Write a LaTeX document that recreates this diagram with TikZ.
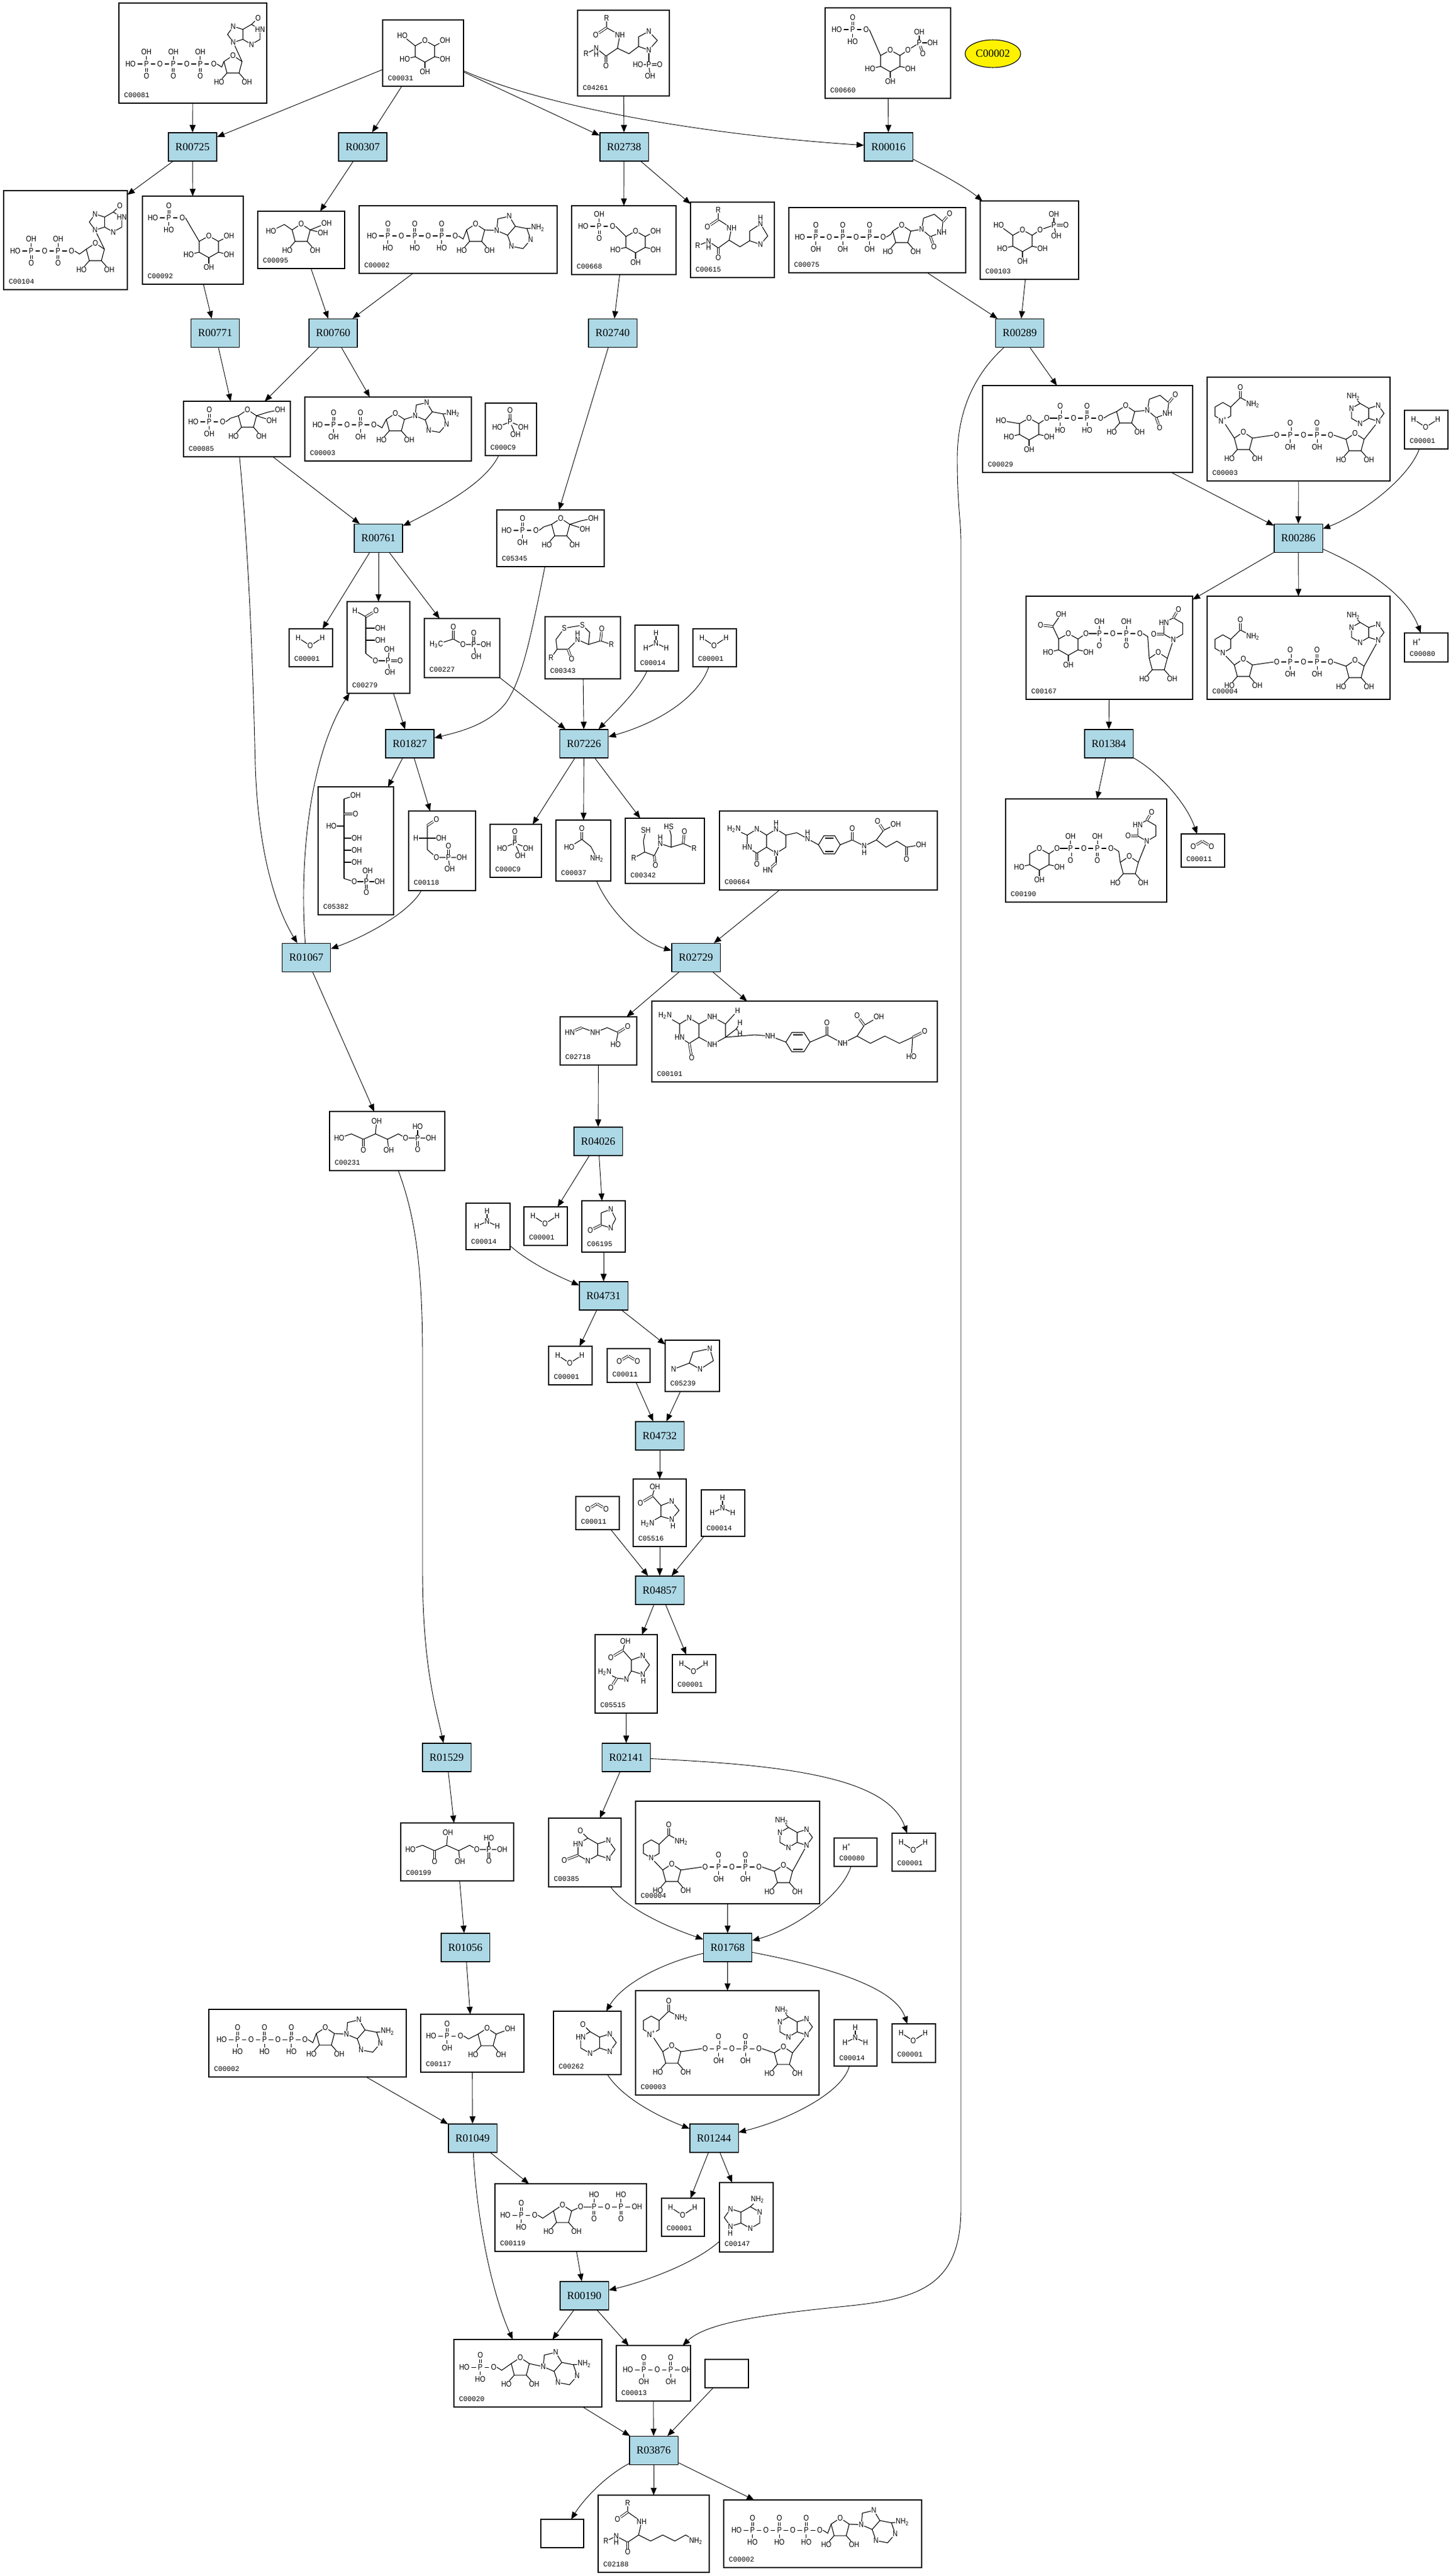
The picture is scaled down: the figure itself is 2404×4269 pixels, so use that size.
\documentclass[tikz,border=0pt]{standalone}
\usepackage{fontspec}
\setmainfont{Liberation Serif}
\newfontfamily\atomff{Liberation Sans}[FakeStretch=0.85]
\newfontfamily\idff{Liberation Mono}
\usetikzlibrary{arrows.meta,fit,calc,shapes.geometric}
\definecolor{rxfill}{HTML}{ADD8E6}
\tikzset{
 atom/.style={font={\atomff\fontsize{4.9}{4.9}\selectfont}, inner sep=0.3pt, outer sep=0pt},
 bond/.style={line width=0.4pt},
 dbl/.style={line width=0.33pt, double, double distance=0.8pt},
 cbx/.style={draw, line width=0.42pt, inner sep=0pt, outer sep=0pt},
 idl/.style={font={\idff\fontsize{4.3}{4.3}\selectfont}, inner sep=0pt},
 rx/.style={draw, fill=rxfill, line width=0.42pt, minimum width=29.5pt, minimum height=17.3pt, inner sep=0pt, font={\fontsize{6.6}{6.6}\selectfont}},
 e/.style={-{Triangle[length=4.5pt,width=3.6pt]}, line width=0.33pt},
}
% ---------- building blocks ----------
\newcommand\cbox[6]{%
 \node[cbx, fit={(#2,#3) (#4,#5)}] (#1) {};
 \node[idl, anchor=south west] at ([xshift=3pt,yshift=3.4pt]#1.south west) {#6};}
\newcommand\mChain[7]{%
 \foreach \lab [count=\i] in {#3}{%
  \ifnum\i=1\relax
   \node[atom,anchor=west] (#1\i) at (#2) {\lab};
  \else
   \pgfmathtruncatemacro\jj{\i-1}%
   \node[atom,anchor=west] (#1\i) at ([xshift=4.6pt]#1\jj.east) {\lab};
   \draw[bond] ([xshift=0.9pt]#1\jj.east) -- ([xshift=-0.9pt]#1\i.west);
  \fi
  \edef\tmpA{\lab}\def\tmpP{P}%
  \ifx\tmpA\tmpP
   \node[atom,anchor=south] (#1\i u) at ([yshift=3.4pt]#1\i.north) {#4};
   \draw[#5] ([yshift=0.5pt]#1\i.north) -- ([yshift=-0.5pt]#1\i u.south);
   \node[atom,anchor=north] (#1\i d) at ([yshift=-3.4pt]#1\i.south) {#6};
   \draw[#7] ([yshift=-0.5pt]#1\i.south) -- ([yshift=0.5pt]#1\i d.north);
  \fi
  \xdef\mLast{#1\i}%
 }}
\newcommand\mRib[2]{%
 \begin{scope}[shift={(#2)}]
  \node[atom] (#1O) at (0,-17) {O};
  \coordinate (#1L) at (-15,-7); \coordinate (#1R) at (15,-7);
  \coordinate (#1BL) at (-10,12); \coordinate (#1BR) at (10,12);
  \draw[bond] (#1O) -- (#1R) -- (#1BR) -- (#1BL) -- (#1L) -- (#1O);
  \node[atom] (#1h) at (-23,27) {HO}; \node[atom] (#1k) at (23,27) {OH};
  \draw[bond] (#1BL) -- (#1h); \draw[bond] (#1BR) -- (#1k);
 \end{scope}}
\newcommand\mPyran[3]{%
 \begin{scope}[shift={(#2)}]
  \node[atom] (#1O) at (0,-18) {O};
  \coordinate (#1UR) at (16,-9); \coordinate (#1LR) at (16,9); \coordinate (#1B) at (0,18);
  \coordinate (#1LL) at (-16,9); \coordinate (#1UL) at (-16,-9);
  \draw[bond] (#1O) -- (#1UR) -- (#1LR) -- (#1B) -- (#1LL) -- (#1UL) -- (#1O);
  \node[atom,anchor=west] (#1a) at (24,-18) {#3}; \draw[bond] (#1UR) -- (#1a);
  \node[atom,anchor=west] (#1b) at (24,13) {OH}; \draw[bond] (#1LR) -- (#1b);
  \node[atom] (#1c) at (0,34) {OH}; \draw[bond] (#1B) -- (#1c);
  \node[atom,anchor=east] (#1d) at (-24,13) {HO}; \draw[bond] (#1LL) -- (#1d);
 \end{scope}}
\newcommand\mPur[5]{%
 \begin{scope}[shift={(#2)},#3]
  \coordinate (#1C8) at (0,0);
  \node[atom] (#1N7) at (8.7,-12.1) {N};
  \node[atom] (#1N9) at (8.7,12.1) {N};
  \coordinate (#1C5) at (23,-7.5); \coordinate (#1C4) at (23,7.5);
  \coordinate (#1C6) at (36,-15);
  \node[atom] (#1N1) at (49,-7.5) {#5};
  \coordinate (#1C2) at (49,7.5);
  \node[atom] (#1N3) at (36,15) {N};
  \draw[bond] (#1N7) -- (#1C8) -- (#1N9) -- (#1C4) -- (#1C5) -- (#1N7);
  \draw[bond] (#1C5) -- (#1C6) -- (#1N1) -- (#1C2) -- (#1N3) -- (#1C4);
  \node[atom] (#1S) at (46,-25) {#4};
  \draw[bond] (#1C6) -- (#1S);
 \end{scope}}
\newcommand\mUra[4]{%
 \begin{scope}[shift={(#2)},#3]
  \node[atom] (#1N) at (0,0) {N};
  \coordinate (#1a) at (7.5,-13); \coordinate (#1b) at (22.5,-13); \coordinate (#1c) at (30,0);
  \node[atom] (#1d) at (23.5,13) {#4};
  \coordinate (#1e) at (7.5,13);
  \draw[bond] (#1N) -- (#1a) -- (#1b) -- (#1c) -- (#1d) -- (#1e) -- (#1N);
  \node[atom] (#1o1) at (42,-7) {O}; \draw[dbl] (#1c) -- (#1o1);
  \node[atom] (#1o2) at (7.5,27) {O}; \draw[dbl] (#1e) -- (#1o2);
 \end{scope}}
\newcommand\mAde[7]{%
 \mChain{#1c}{#2}{#3}{O}{dbl}{#4}{bond}
 \mRib{#1r}{#5}
 \draw[bond] (\mLast.east) -- ++(8,5) -- (#1rL);
 \mPur{#1p}{#6}{#7}{NH\textsubscript{2}}{N}
 \draw[bond] (#1rR) -- (#1pN9);}
\newcommand\mNAD[4]{%
 \begin{scope}[shift={(26,57+#3)}]
  \coordinate (#1t) at (0,-15); \coordinate (#1ur) at (13,-7.5); \coordinate (#1lr) at (13,7.5);
  \node[atom] (#1N) at (0,15) {#2};
  \coordinate (#1ll) at (-13,7.5); \coordinate (#1ul) at (-13,-7.5);
  \draw[bond] (#1t) -- (#1ur) -- (#1lr) -- (#1N) -- (#1ll) -- (#1ul) -- (#1t);
  \coordinate (#1cc) at (29,-23);
  \node[atom] (#1co) at (29,-40) {O};
  \node[atom,anchor=west] (#1cn) at (38,-12) {NH\textsubscript{2}};
  \draw[bond] (#1ur) -- (#1cc) -- (#1cn); \draw[dbl] (#1cc) -- (#1co);
 \end{scope}
 \mRib{#1r}{60,108+#4}
 \draw[bond] (#1N) -- (#1rL);
 \mChain{#1c}{110,96+#4}{O,P,O,P,O}{O}{dbl}{OH}{bond}
 \draw[bond] (#1rR) -- (#1c1.west);
 \mRib{#1s}{245,110+#4}
 \draw[bond] (\mLast.east) -- (#1sL);
 \mPur{#1p}{293,60}{xscale=-1.1,yscale=1.1}{NH\textsubscript{2}}{N}
 \draw[bond] (#1pN9) -- (#1sR);}
\newcommand\mFP[1]{%
 \mChain{#1c}{7,34}{HO,P,O}{O}{dbl}{OH}{bond}
 \mRib{#1r}{106,31}
 \draw[bond] (#1c3.east) -- ++(8,-6) -- (#1rL);
 \coordinate (#1k) at (140,18);
 \node[atom] (#1o1) at (160,14) {OH}; \node[atom] (#1o2) at (146,32) {OH};
 \draw[bond] (#1rR) -- (#1k) -- (#1o1); \draw[bond] (#1rR) -- (#1o2);}
\newcommand\mWater{%
 \node[atom] (wa) at (15,15) {H}; \node[atom] (wb) at (35,28) {O}; \node[atom] (wc) at (55,15) {H};
 \draw[bond] (wa) -- (wb) -- (wc);}
\newcommand\mAmm{%
 \node[atom] (na) at (35,13) {H}; \node[atom] (nb) at (35,30) {N};
 \node[atom] (nc) at (18,38) {H}; \node[atom] (nd) at (52,38) {H};
 \draw[bond] (na) -- (nb); \draw[bond] (nc) -- (nb) -- (nd);}
\newcommand\mCOO{%
 \node[atom] (oa) at (20,21) {O}; \node[atom] (ob) at (50,21) {O}; \coordinate (oc) at (35,12);
 \draw[dbl] (oa) -- (oc); \draw[dbl] (oc) -- (ob);}
\newcommand\mHp{\node[atom] at (21,15) {H\textsuperscript{+}};}
\newcommand\mPi{%
 \node[atom] (pa) at (41,31) {P}; \node[atom] (pb) at (41,12) {O};
 \node[atom] (pc) at (20,40) {HO}; \node[atom] (pd) at (63,40) {OH}; \node[atom] (pe) at (50,52) {OH};
 \draw[dbl] (pa) -- (pb); \draw[bond] (pc) -- (pa) -- (pd); \draw[bond] (pa) -- (pe);}
\newcommand\inbox[2]{\begin{scope}[shift={(#1)}]#2\end{scope}}

\begin{document}
\begin{tikzpicture}[x=0.3682pt,y=-0.3682pt]
\useasboundingbox (0,0) rectangle (2404,4269);

% ================= reactions =================
\foreach \nm/\cx/\cy in {R00725/319/243.5, R00307/601/243.5, R02738/1034/243.5, R00016/1472/243.5,
  R00771/356.5/552, R00760/552/552, R02740/1015/552, R00289/1689.5/552,
  R00761/627/892, R00286/2151/892, R01827/679/1232.5, R07226/967.5/1232.5, R01384/1837/1232.5,
  R01067/507.5/1587, R02729/1153/1587, R04026/991/1891.5, R04731/1000/2147.5,
  R04732/1093/2379.5, R04857/1093/2635.5, R01529/740/2912.5, R02141/1037.5/2912.5,
  R01056/771/3227.5, R01768/1205.5/3227.5, R01049/783/3543.5, R01244/1183/3543.5,
  R00190/968/3804.5, R03876/1083/4061}
  {\node[rx] (\nm) at (\cx,\cy) {\nm};}

\node[draw, ellipse, fill=yellow, line width=0.42pt, minimum width=33.9pt, minimum height=16.9pt, inner sep=0pt,
  font={\fontsize{6.6}{6.6}\selectfont}] (C00002y) at (1645,89) {C00002};

% ================= compound boxes =================
\cbox{C00081}{197}{5}{442}{171}{C00081}
\cbox{C00031}{634}{33}{768}{143}{C00031}
\cbox{C04261}{957}{17}{1109}{159}{C04261}
\cbox{C00660}{1367}{13}{1575}{163}{C00660}
\cbox{C00104}{6}{316}{211}{480}{C00104}
\cbox{C00092}{236}{325}{403}{471}{C00092}
\cbox{C00095}{427}{350}{571}{445}{C00095}
\cbox{C00002a}{595}{341}{923}{453}{C00002}
\cbox{C00668}{947}{341}{1120}{455}{C00668}
\cbox{C00615}{1144}{335}{1283}{460}{C00615}
\cbox{C00075}{1307}{344}{1600}{452}{C00075}
\cbox{C00103}{1624}{333}{1787}{463}{C00103}
\cbox{C00085}{304}{665}{481}{757}{C00085}
\cbox{C00008}{505}{658}{781}{764}{C00003}
\cbox{C00009a}{804}{668}{889}{755}{C000C9}
\cbox{C00029}{1628}{639}{1976}{783}{C00029}
\cbox{C00003a}{2000}{625}{2303}{797}{C00003}
\cbox{C00001a}{2327}{680}{2399}{744}{C00001}
\cbox{C05345}{823}{845}{1001}{939}{C05345}
\cbox{C00001b}{479}{1042}{551}{1105}{C00001}
\cbox{C00279}{575}{997}{679}{1149}{C00279}
\cbox{C00227}{703}{1025}{828}{1123}{C00227}
\cbox{C00343}{903}{1022}{1028}{1125}{C00343}
\cbox{C00014a}{1052}{1036}{1124}{1112}{C00014}
\cbox{C00001c}{1148}{1042}{1220}{1105}{C00001}
\cbox{C00167}{1700}{988}{1976}{1159}{C00167}
\cbox{C00004a}{2000}{988}{2303}{1159}{C00004}
\cbox{C00080a}{2327}{1049}{2399}{1097}{C00080}
\cbox{C05382}{527}{1304}{652}{1516}{C05382}
\cbox{C00118}{677}{1344}{788}{1476}{C00118}
\cbox{C00009b}{812}{1366}{897}{1454}{C000C9}
\cbox{C00037}{921}{1359}{1012}{1460}{C00037}
\cbox{C00342}{1036}{1356}{1167}{1464}{C00342}
\cbox{C00664}{1192}{1344}{1553}{1475}{C00664}
\cbox{C00190}{1666}{1324}{1933}{1495}{C00190}
\cbox{C00011a}{1957}{1382}{2029}{1437}{C00011}
\cbox{C02718}{928}{1685}{1055}{1765}{C02718}
\cbox{C00101}{1080}{1659}{1553}{1793}{C00101}
\cbox{C00231}{546}{1842}{737}{1940}{C00231}
\cbox{C00014b}{772}{1994}{845}{2071}{C00014}
\cbox{C00001d}{868}{2000}{940}{2064}{C00001}
\cbox{C06195}{964}{1990}{1036}{2075}{C06195}
\cbox{C00001e}{909}{2231}{981}{2295}{C00001}
\cbox{C00011b}{1006}{2235}{1077}{2291}{C00011}
\cbox{C05239}{1102}{2221}{1192}{2306}{C05239}
\cbox{C00011c}{954}{2480}{1026}{2535}{C00011}
\cbox{C05516}{1049}{2451}{1137}{2563}{C05516}
\cbox{C00014c}{1162}{2469}{1234}{2546}{C00014}
\cbox{C05515}{986}{2709}{1089}{2839}{C05515}
\cbox{C00001f}{1114}{2742}{1186}{2805}{C00001}
\cbox{C00199}{664}{3021}{851}{3117}{C00199}
\cbox{C00385}{909}{3013}{1029}{3127}{C00385}
\cbox{C00004b}{1053}{2985}{1358}{3155}{C00004}
\cbox{C00080b}{1382}{3046}{1453}{3093}{C00080}
\cbox{C00001g}{1478}{3038}{1550}{3101}{C00001}
\cbox{C00002b}{346}{3330}{673}{3442}{C00002}
\cbox{C00117}{697}{3338}{868}{3434}{C00117}
\cbox{C00262}{917}{3333}{1029}{3438}{C00262}
\cbox{C00003b}{1053}{3299}{1357}{3472}{C00003}
\cbox{C00014d}{1382}{3347}{1453}{3424}{C00014}
\cbox{C00001h}{1478}{3354}{1550}{3418}{C00001}
\cbox{C00119}{820}{3619}{1071}{3731}{C00119}
\cbox{C00001i}{1096}{3643}{1167}{3706}{C00001}
\cbox{C00147}{1192}{3617}{1281}{3732}{C00147}
\cbox{C00020}{752}{3877}{997}{3989}{C00020}
\cbox{C00013}{1021}{3887}{1144}{3979}{C00013}
\node[cbx, fit={(1168,3910) (1240,3957)}] (E1) {};
\cbox{C02188}{991}{4135}{1175}{4263}{C02188}
\cbox{C00002c}{1199}{4143}{1527}{4255}{C00002}
\node[cbx, fit={(896,4175) (967,4222)}] (E2) {};

% ================= structures =================
\foreach \p in {{2327,680},{479,1042},{1148,1042},{868,2000},{909,2231},{1114,2742},{1478,3038},{1478,3354},{1096,3643}}
  {\inbox{\p}{\mWater}}
\foreach \p in {{1052,1036},{772,1994},{1162,2469},{1382,3347}} {\inbox{\p}{\mAmm}}
\foreach \p in {{1957,1382},{1006,2235},{954,2480}} {\inbox{\p}{\mCOO}}
\foreach \p in {{2327,1049},{1382,3046}} {\inbox{\p}{\mHp}}
\foreach \p in {{804,668},{812,1366}} {\inbox{\p}{\mPi}}

% C00081 ITP
\begin{scope}[shift={(197,5)}]
 \mChain{ia}{10,101}{HO,P,O,P,O,P,O}{OH}{bond}{O}{dbl}
 \mRib{ir}{189,104}
 \draw[bond] (\mLast.east) -- ++(8,5) -- (irL);
 \mPur{ip}{180,52}{scale=1.1}{O}{HN}
 \draw[bond] (irR) -- (ipN9);
\end{scope}
% C00031 glucose
\begin{scope}[shift={(634,33)}]
 \mPyran{gl}{70,52}{OH}
 \node[atom,anchor=east] (glh) at (42,26) {HO}; \draw[bond] (glUL) -- (glh);
\end{scope}
% C04261
\begin{scope}[shift={(957,17)}]
 \node[atom] (pa1) at (48,13) {R}; \coordinate (pa2) at (48,29);
 \node[atom] (pa3) at (30,41) {O}; \node[atom] (pa4) at (70,41) {NH};
 \coordinate (pa5) at (66,63); \coordinate (pa6) at (47,76);
 \node[atom] (pa7) at (31,63) {N}; \node[atom] (pa8) at (31,73) {H}; \node[atom] (pa9) at (14,72) {R};
 \node[atom] (pa10) at (47,92) {O}; \coordinate (pa11) at (85,72);
 \coordinate (pv1) at (101,44); \node[atom] (pv2) at (118,35) {N}; \coordinate (pv3) at (132,50);
 \node[atom] (pv4) at (118,66) {N}; \coordinate (pv5) at (101,60);
 \draw[bond] (pa1) -- (pa2) -- (pa4) -- (pa5) -- (pa6) -- (pa7) -- (pa9);
 \draw[dbl] (pa2) -- (pa3); \draw[dbl] (pa6) -- (pa10);
 \draw[bond] (pa5) -- (pa11) -- (pv5) -- (pv1) -- (pv2) -- (pv3) -- (pv4) -- (pv5);
 \node[atom] (pp1) at (118,90) {P}; \node[atom] (pp2) at (100,90) {HO}; \node[atom] (pp3) at (136,90) {O}; \node[atom] (pp4) at (120,109) {OH};
 \draw[bond] (pv4) -- (pp1); \draw[bond] (pp2) -- (pp1) -- (pp4); \draw[dbl] (pp1) -- (pp3);
\end{scope}
% C00660
\begin{scope}[shift={(1367,13)}]
 \mChain{xa}{10,36}{HO,P,O}{O}{dbl}{HO}{bond}
 \mPyran{xr}{108,88}{O}
 \draw[bond] (xa3.east) -- (xrUL);
 \node[atom] (xp) at (156,58) {P}; \draw[bond] (xra) -- (xp);
 \node[atom] (xp1) at (156,40) {OH}; \draw[bond] (xp) -- (xp1);
 \node[atom] (xp2) at (178,58) {OH}; \draw[bond] (xp) -- (xp2);
 \node[atom] (xp3) at (162,76) {O}; \draw[dbl] (xp) -- (xp3);
\end{scope}
% C00104 IDP
\begin{scope}[shift={(6,316)}]
 \mChain{ib}{10,100}{HO,P,O,P,O}{OH}{bond}{O}{dbl}
 \mRib{ibr}{152,104}
 \draw[bond] (\mLast.east) -- ++(8,5) -- (ibrL);
 \mPur{ibp}{142,52}{scale=1.1}{O}{HN}
 \draw[bond] (ibrR) -- (ibpN9);
\end{scope}
% C00092 G6P
\begin{scope}[shift={(236,325)}]
 \mChain{ga}{8,36}{HO,P,O}{O}{dbl}{HO}{bond}
 \mPyran{gr}{110,84}{OH}
 \draw[bond] (ga3.east) -- (grUL);
\end{scope}
% C00095 fructose
\begin{scope}[shift={(427,350)}]
 \mRib{fr}{72,38}
 \node[atom] (frh) at (22,33) {HO}; \draw[bond] (frL) -- (44,22) -- (frh);
 \node[atom] (fro1) at (114,20) {OH}; \node[atom] (fro2) at (108,36) {OH};
 \draw[bond] (frR) -- (fro1); \draw[bond] (frR) -- (fro2);
\end{scope}
% ATP boxes
\foreach \p/\q in {{595,341}/aa,{346,3330}/ab,{1199,4143}/ac}{
 \begin{scope}[shift={(\p)}]
  \mAde{\q}{12,50}{HO,P,O,P,O,P,O}{HO}{193,47}{229.8,21.8}{rotate=-41,scale=1.3}
 \end{scope}}
% C00668
\begin{scope}[shift={(947,341)}]
 \mChain{ma}{10,34}{HO,P,O}{OH}{bond}{O}{dbl}
 \mPyran{mr}{106,60}{OH}
 \draw[bond] (ma3.east) -- (mrUL);
\end{scope}
% C00615
\begin{scope}[shift={(1144,335)}]
 \node[atom] (qa1) at (46,13) {R}; \coordinate (qa2) at (46,29);
 \node[atom] (qa3) at (28,41) {O}; \node[atom] (qa4) at (68,43) {NH};
 \coordinate (qa5) at (64,63); \coordinate (qa6) at (46,76);
 \node[atom] (qa7) at (30,65) {N}; \node[atom] (qa8) at (30,75) {H}; \node[atom] (qa9) at (12,72) {R};
 \node[atom] (qa10) at (46,92) {O}; \coordinate (qa11) at (82,74);
 \coordinate (qv1) at (98,48); \node[atom] (qv2) at (116,36) {N}; \node[atom] at (116,26) {H};
 \coordinate (qv3) at (128,56); \node[atom] (qv4) at (116,70) {N}; \coordinate (qv5) at (98,64);
 \draw[bond] (qa1) -- (qa2) -- (qa4) -- (qa5) -- (qa6) -- (qa7) -- (qa9);
 \draw[dbl] (qa2) -- (qa3); \draw[dbl] (qa6) -- (qa10);
 \draw[bond] (qa5) -- (qa11) -- (qv5) -- (qv1) -- (qv2) -- (qv3) -- (qv4) -- (qv5);
\end{scope}
% C00075 UTP
\begin{scope}[shift={(1307,344)}]
 \mChain{ut}{9,49}{HO,P,O,P,O,P,O}{O}{dbl}{OH}{bond}
 \mRib{utr}{187,46}
 \draw[bond] (\mLast.east) -- ++(8,-5) -- (utrL);
 \mUra{utu}{220,36}{rotate=20,scale=1.25}{NH}
 \draw[bond] (utrR) -- (utuN);
\end{scope}
% C00103 G1P
\begin{scope}[shift={(1624,333)}]
 \mPyran{gp}{70,66}{O}
 \node[atom,anchor=east] (gph) at (40,40) {HO}; \draw[bond] (gpUL) -- (gph);
 \node[atom] (gpp) at (122,40) {P}; \draw[bond] (gpa) -- (gpp);
 \node[atom] (gpp1) at (122,22) {OH}; \draw[bond] (gpp) -- (gpp1);
 \node[atom] (gpp2) at (142,40) {O}; \draw[dbl] (gpp) -- (gpp2);
 \node[atom] (gpp3) at (126,58) {OH}; \draw[bond] (gpp) -- (gpp3);
\end{scope}
% C00085, C05345
\begin{scope}[shift={(304,665)}] \mFP{fa} \end{scope}
\begin{scope}[shift={(823,845)}] \mFP{fb} \end{scope}
% ADP box
\begin{scope}[shift={(505,658)}]
 \mAde{ad}{12,46}{HO,P,O,P,O}{OH}{150,44}{184.6,13.2}{rotate=-41,scale=1.2}
\end{scope}
% C00020 AMP
\begin{scope}[shift={(752,3877)}]
 \mAde{am}{8,46}{HO,P,O}{HO}{110,47}{149.8,25.8}{rotate=-41,scale=1.3}
\end{scope}
% NAD / NADH
\begin{scope}[shift={(2000,625)}] \mNAD{na}{N\textsuperscript{+}}{0}{0} \end{scope}
\begin{scope}[shift={(2000,988)}] \mNAD{nb}{N}{22}{13} \end{scope}
\begin{scope}[shift={(1053,2985)}] \mNAD{nc}{N}{22}{13} \end{scope}
\begin{scope}[shift={(1053,3299)}] \mNAD{nd}{N\textsuperscript{+}}{0}{0} \end{scope}
% C00029 UDP-glucose
\begin{scope}[shift={(1628,639)}]
 \mPyran{ua}{77,72}{O}
 \node[atom,anchor=east] (uah) at (40,58) {HO}; \draw[bond] (uaUL) -- (uah);
 \mChain{uc}{[xshift=4.6pt]uaa.east}{P,O,P,O}{O}{dbl}{HO}{bond}
 \draw[bond] (uaa) -- (uc1);
 \mRib{ur}{237,50}
 \draw[bond] (\mLast.east) -- ++(8,-5) -- (urL);
 \mUra{uu}{273,41}{rotate=20,scale=1.25}{NH}
 \draw[bond] (urR) -- (uuN);
\end{scope}
% C00167 UDP-glucuronate
\begin{scope}[shift={(1700,988)}]
 \mPyran{gu}{70,80}{O}
 \coordinate (gucc) at (44,50); \node[atom] (guo) at (24,48) {O}; \node[atom] (guoh) at (58,30) {OH};
 \draw[bond] (guUL) -- (gucc) -- (guoh); \draw[dbl] (gucc) -- (guo);
 \mChain{gc}{[xshift=4.6pt]gua.east}{P,O,P,O}{OH}{bond}{O}{dbl}
 \draw[bond] (gua) -- (gc1);
 \mRib{gr}{219,110}
 \draw[bond] (\mLast.east) -- ++(8,5) -- (grL);
 \mUra{guu}{244,72}{xscale=-1.2,yscale=1.2,rotate=90}{HN}
 \draw[bond] (grR) -- (guuN);
\end{scope}
% C00190 UDP-xylose
\begin{scope}[shift={(1666,1324)}]
 \mPyran{xy}{56,100}{O}
 \mChain{xc}{[xshift=4.6pt]xya.east}{P,O,P,O}{OH}{bond}{O}{dbl}
 \draw[bond] (xya) -- (xc1);
 \mRib{xyr}{205,112}
 \draw[bond] (\mLast.east) -- ++(8,5) -- (xyrL);
 \mUra{xyu}{234,70}{xscale=-1.15,yscale=1.15,rotate=90}{HN}
 \draw[bond] (xyrR) -- (xyuN);
\end{scope}
% C00279 erythrose-4P
\begin{scope}[shift={(575,997)}]
 \node[atom] (e1) at (13,15) {H}; \node[atom] (e2) at (48,15) {O}; \coordinate (ec1) at (31,25);
 \draw[bond] (e1) -- (ec1); \draw[dbl] (ec1) -- (e2);
 \coordinate (ec2) at (31,44); \coordinate (ec3) at (31,64); \coordinate (ec4) at (31,86);
 \draw[bond] (ec1) -- (ec2) -- (ec3) -- (ec4);
 \node[atom] (e3) at (55,44) {OH}; \draw[bond] (ec2) -- (e3);
 \node[atom] (e4) at (55,64) {OH}; \draw[bond] (ec3) -- (e4);
 \node[atom] (e5) at (47,98) {O}; \draw[bond] (ec4) -- (e5);
 \node[atom] (e6) at (68,98) {P}; \draw[bond] (e5) -- (e6);
 \node[atom] (e7) at (88,98) {O}; \draw[dbl] (e6) -- (e7);
 \node[atom] (e8) at (70,79) {OH}; \draw[bond] (e6) -- (e8);
 \node[atom] (e9) at (71,117) {OH}; \draw[bond] (e6) -- (e9);
\end{scope}
% C00227 acetyl phosphate
\begin{scope}[shift={(703,1025)}]
 \node[atom] (ac1) at (20,43) {H\textsubscript{3}C}; \coordinate (acc) at (48,34);
 \node[atom] (ac2) at (48,14) {O}; \node[atom] (ac3) at (64,43) {O}; \node[atom] (ac4) at (82,43) {P};
 \node[atom] (ac5) at (102,43) {OH}; \node[atom] (ac6) at (82,24) {O}; \node[atom] (ac7) at (86,63) {OH};
 \draw[bond] (ac1) -- (acc) -- (ac3) -- (ac4) -- (ac5); \draw[dbl] (acc) -- (ac2);
 \draw[dbl] (ac4) -- (ac6); \draw[bond] (ac4) -- (ac7);
\end{scope}
% C00343
\begin{scope}[shift={(903,1022)}]
 \coordinate (sa1) at (18,38); \node[atom] (sa2) at (32,19) {S}; \node[atom] (sa3) at (62,14) {S};
 \coordinate (sa4) at (74,26); \coordinate (sa5) at (72,46); \node[atom] (sa6) at (54,38) {N}; \node[atom] at (54,28) {H};
 \coordinate (sa7) at (38,54); \node[atom] (sa8) at (44,70) {O}; \coordinate (sa9) at (20,54);
 \node[atom] (sa10) at (10,68) {R}; \coordinate (sa11) at (92,40); \node[atom] (sa12) at (94,20) {O}; \node[atom] (sa13) at (110,46) {R};
 \draw[bond] (sa1) -- (sa2) -- (sa3) -- (sa4) -- (sa5) -- (sa6) -- (sa7) -- (sa9) -- (sa1);
 \draw[dbl] (sa7) -- (sa8); \draw[bond] (sa9) -- (sa10); \draw[bond] (sa5) -- (sa11) -- (sa13); \draw[dbl] (sa11) -- (sa12);
\end{scope}
% C05382 sedoheptulose-7P
\begin{scope}[shift={(527,1304)}]
 \coordinate (ha) at (43,20); \coordinate (hb) at (43,45); \coordinate (hc) at (43,65); \coordinate (hd) at (43,85);
 \coordinate (he) at (43,105); \coordinate (hf) at (43,125); \coordinate (hg) at (43,152);
 \draw[bond] (ha) -- (hg);
 \node[atom] (h1) at (62,14) {OH}; \draw[bond] (ha) -- (h1);
 \node[atom] (h2) at (62,45) {O}; \draw[dbl] (hb) -- (h2);
 \node[atom] (h3) at (22,65) {HO}; \draw[bond] (hc) -- (h3);
 \node[atom] (h4) at (64,85) {OH}; \draw[bond] (hd) -- (h4);
 \node[atom] (h5) at (64,105) {OH}; \draw[bond] (he) -- (h5);
 \node[atom] (h6) at (64,125) {OH}; \draw[bond] (hf) -- (h6);
 \node[atom] (h7) at (60,157) {O}; \draw[bond] (hg) -- (h7);
 \node[atom] (h8) at (80,157) {P}; \draw[bond] (h7) -- (h8);
 \node[atom] (h9) at (102,157) {OH}; \draw[bond] (h8) -- (h9);
 \node[atom] (h10) at (82,139) {OH}; \draw[bond] (h8) -- (h10);
 \node[atom] (h11) at (80,175) {O}; \draw[dbl] (h8) -- (h11);
\end{scope}
% C00118 GAP
\begin{scope}[shift={(677,1344)}]
 \node[atom] (t1) at (46,14) {O}; \coordinate (tc1) at (31,24); \draw[dbl] (tc1) -- (t1);
 \coordinate (tc2) at (31,45); \node[atom] (t2) at (12,45) {H}; \node[atom] (t3) at (54,45) {OH};
 \coordinate (tc3) at (31,64); \node[atom] (t4) at (46,77) {O}; \node[atom] (t5) at (66,77) {P};
 \node[atom] (t6) at (88,77) {OH}; \node[atom] (t7) at (66,58) {O}; \node[atom] (t8) at (68,96) {OH};
 \draw[bond] (tc1) -- (tc2) -- (tc3) -- (t4) -- (t5) -- (t6); \draw[bond] (t2) -- (tc2) -- (t3);
 \draw[dbl] (t5) -- (t7); \draw[bond] (t5) -- (t8);
\end{scope}
% C00037 glycine
\begin{scope}[shift={(921,1359)}]
 \node[atom] (gy1) at (43,14) {O}; \coordinate (gyc) at (43,32); \node[atom] (gy2) at (22,45) {HO};
 \coordinate (gyd) at (58,44); \node[atom] (gy3) at (68,64) {NH\textsubscript{2}};
 \draw[dbl] (gyc) -- (gy1); \draw[bond] (gy2) -- (gyc) -- (gyd) -- (gy3);
\end{scope}
% C00342 thioredoxin
\begin{scope}[shift={(1036,1356)}]
 \node[atom] (ta1) at (34,20) {SH}; \coordinate (ta2) at (30,38); \coordinate (ta3) at (32,56);
 \node[atom] (ta4) at (14,66) {R}; \coordinate (ta5) at (48,62); \node[atom] (ta6) at (50,78) {O};
 \node[atom] (ta7) at (58,42) {N}; \node[atom] at (58,32) {H}; \coordinate (ta8) at (76,48); \coordinate (ta9) at (76,28);
 \node[atom] (ta10) at (72,14) {HS}; \coordinate (ta11) at (96,42); \node[atom] (ta12) at (98,22) {O}; \node[atom] (ta13) at (114,50) {R};
 \draw[bond] (ta1) -- (ta2) -- (ta3) -- (ta4); \draw[bond] (ta3) -- (ta5) -- (ta7) -- (ta8) -- (ta9) -- (ta10);
 \draw[dbl] (ta5) -- (ta6); \draw[bond] (ta8) -- (ta11) -- (ta13); \draw[dbl] (ta11) -- (ta12);
\end{scope}
% C00664 folate derivative
\begin{scope}[shift={(1192,1344)}]
 \node[atom] (fa1) at (62,30) {N}; \coordinate (fa2) at (78,40); \coordinate (fa3) at (78,60); \coordinate (fa4) at (62,70);
 \node[atom] (fa5) at (46,60) {HN}; \coordinate (fa6) at (46,40);
 \draw[bond] (fa1) -- (fa2) -- (fa3) -- (fa4) -- (fa5) -- (fa6) -- (fa1);
 \node[atom] (fa7) at (24,30) {H\textsubscript{2}N}; \draw[bond] (fa6) -- (fa7);
 \node[atom] (fa8) at (62,88) {O}; \draw[dbl] (fa4) -- (fa8);
 \node[atom] (fb1) at (94,30) {N}; \node[atom] at (94,20) {H}; \coordinate (fb2) at (110,40); \coordinate (fb3) at (110,60);
 \node[atom] (fb4) at (94,70) {N};
 \draw[bond] (fa2) -- (fb1) -- (fb2) -- (fb3) -- (fb4) -- (fa3);
 \coordinate (fb5) at (94,86); \node[atom] (fb6) at (80,98) {HN}; \draw[bond] (fb4) -- (fb5); \draw[dbl] (fb5) -- (fb6);
 \coordinate (fb7) at (128,36); \node[atom] (fb8) at (146,46) {N}; \node[atom] at (146,36) {H};
 \draw[bond] (fb2) -- (fb7) -- (fb8);
 \coordinate (bz1) at (164,56); \coordinate (bz2) at (173,41); \coordinate (bz3) at (191,41); \coordinate (bz4) at (200,56);
 \coordinate (bz5) at (191,71); \coordinate (bz6) at (173,71);
 \draw[bond] (fb8) -- (bz1) -- (bz2) -- (bz3) -- (bz4) -- (bz5) -- (bz6) -- (bz1);
 \draw[bond] (175,45) -- (189,45); \draw[bond] (175,67) -- (189,67);
 \coordinate (fc1) at (220,48); \node[atom] (fc2) at (220,29) {O}; \node[atom] (fc3) at (240,58) {N}; \node[atom] at (240,69) {H};
 \coordinate (fc4) at (260,48); \coordinate (fc5) at (272,32); \node[atom] (fc6) at (262,17) {O}; \node[atom] (fc7) at (292,22) {OH};
 \coordinate (fc8) at (276,60); \coordinate (fc9) at (294,50); \coordinate (fc10) at (310,60);
 \node[atom] (fc11) at (334,56) {OH}; \node[atom] (fc12) at (310,80) {O};
 \draw[bond] (bz4) -- (fc1) -- (fc3) -- (fc4) -- (fc5) -- (fc7); \draw[dbl] (fc1) -- (fc2); \draw[dbl] (fc5) -- (fc6);
 \draw[bond] (fc4) -- (fc8) -- (fc9) -- (fc10) -- (fc11); \draw[dbl] (fc10) -- (fc12);
\end{scope}
% C00101 THF
\begin{scope}[shift={(1080,1659)}]
 \node[atom] (ta1) at (62,28) {N}; \coordinate (ta2) at (78,38); \coordinate (ta3) at (78,60); \coordinate (ta4) at (62,70);
 \node[atom] (ta5) at (46,60) {HN}; \coordinate (ta6) at (46,38);
 \draw[bond] (ta1) -- (ta2) -- (ta3) -- (ta4) -- (ta5) -- (ta6) -- (ta1);
 \node[atom] (ta7) at (22,24) {H\textsubscript{2}N}; \draw[bond] (ta6) -- (ta7);
 \node[atom] (ta8) at (66,94) {O}; \draw[dbl] (ta4) -- (ta8);
 \node[atom] (tb1) at (100,26) {NH}; \coordinate (tb2) at (122,38); \coordinate (tb3) at (122,60); \node[atom] (tb4) at (100,72) {NH};
 \draw[bond] (ta2) -- (tb1) -- (tb2) -- (tb3) -- (tb4) -- (ta3);
 \node[atom] (th1) at (142,16) {H}; \node[atom] (th2) at (146,36) {H}; \node[atom] (th3) at (146,54) {H};
 \draw[bond] (tb2) -- (th1); \coordinate (tc1) at (140,46); \draw[bond] (tb3) -- (tc1) -- (th2); \draw[bond] (tc1) -- (th3);
 \coordinate (tc2) at (170,56); \node[atom] (tc3) at (196,58) {NH}; \draw[bond] (tb3) -- (tc2) -- (tc3);
 \coordinate (tz1) at (222,68); \coordinate (tz2) at (232,52); \coordinate (tz3) at (252,52); \coordinate (tz4) at (262,68);
 \coordinate (tz5) at (252,84); \coordinate (tz6) at (232,84);
 \draw[bond] (tc3) -- (tz1) -- (tz2) -- (tz3) -- (tz4) -- (tz5) -- (tz6) -- (tz1);
 \draw[bond] (234,56) -- (250,56); \draw[bond] (234,80) -- (250,80);
 \coordinate (td1) at (290,56); \node[atom] (td2) at (290,36) {O}; \node[atom] (td3) at (316,70) {NH};
 \coordinate (td4) at (340,58); \coordinate (td5) at (352,40); \node[atom] (td6) at (340,24) {O}; \node[atom] (td7) at (376,26) {OH};
 \coordinate (td8) at (362,70); \coordinate (td9) at (386,58); \coordinate (td10) at (410,70); \coordinate (td11) at (432,60);
 \node[atom] (td12) at (452,50) {O}; \node[atom] (td13) at (430,92) {HO};
 \draw[bond] (tz4) -- (td1) -- (td3) -- (td4) -- (td5) -- (td7); \draw[dbl] (td1) -- (td2); \draw[dbl] (td5) -- (td6);
 \draw[bond] (td4) -- (td8) -- (td9) -- (td10) -- (td11) -- (td13); \draw[dbl] (td11) -- (td12);
\end{scope}
% C02718
\begin{scope}[shift={(928,1685)}]
 \node[atom] (ra1) at (16,26) {HN}; \coordinate (ra2) at (36,18); \node[atom] (ra3) at (58,26) {NH};
 \coordinate (ra4) at (78,18); \coordinate (ra5) at (96,26); \node[atom] (ra6) at (112,16) {O}; \node[atom] (ra7) at (92,46) {HO};
 \draw[dbl] (ra1) -- (ra2); \draw[bond] (ra2) -- (ra3) -- (ra4) -- (ra5) -- (ra7); \draw[dbl] (ra5) -- (ra6);
\end{scope}
% C00231 xylulose-5P and C00199 ribulose-5P
\foreach \p/\q in {{546,1842}/xu,{664,3021}/ru}{
\begin{scope}[shift={(\p)}]
 \node[atom] (\q1) at (16,44) {HO}; \coordinate (\q2) at (36,37); \coordinate (\q3) at (56,46);
 \coordinate (\q4) at (76,37); \coordinate (\q5) at (96,46); \coordinate (\q6) at (114,37);
 \node[atom] (\q7) at (126,44) {O}; \node[atom] (\q8) at (146,44) {P}; \node[atom] (\q9) at (168,44) {OH};
 \node[atom] (\q10) at (146,25) {HO}; \node[atom] (\q11) at (146,63) {O};
 \node[atom] (\q12) at (56,64) {O}; \node[atom] (\q13) at (78,16) {OH}; \node[atom] (\q14) at (98,64) {OH};
 \draw[bond] (\q1) -- (\q2) -- (\q3) -- (\q4) -- (\q5) -- (\q6) -- (\q7) -- (\q8) -- (\q9);
 \draw[bond] (\q8) -- (\q10); \draw[dbl] (\q8) -- (\q11); \draw[dbl] (\q3) -- (\q12);
 \draw[bond] (\q4) -- (\q13); \draw[bond] (\q5) -- (\q14);
\end{scope}}
% C06195
\begin{scope}[shift={(964,1990)}]
 \coordinate (ia1) at (32,20); \node[atom] (ia2) at (48,14) {N}; \coordinate (ia3) at (56,30);
 \node[atom] (ia4) at (48,45) {N}; \coordinate (ia5) at (32,40); \node[atom] (ia6) at (14,49) {O};
 \draw[bond] (ia1) -- (ia2) -- (ia3) -- (ia4) -- (ia5) -- (ia1); \draw[dbl] (ia5) -- (ia6);
\end{scope}
% C05239
\begin{scope}[shift={(1102,2221)}]
 \coordinate (ib1) at (46,20); \node[atom] (ib2) at (74,14) {N}; \coordinate (ib3) at (80,34);
 \node[atom] (ib4) at (58,48) {N}; \coordinate (ib5) at (40,38); \node[atom] (ib6) at (14,48) {N};
 \draw[bond] (ib1) -- (ib2) -- (ib3) -- (ib4) -- (ib5) -- (ib1); \draw[bond] (ib5) -- (ib6);
\end{scope}
% C05516
\begin{scope}[shift={(1049,2451)}]
 \coordinate (ic0) at (32,28); \node[atom] (ic1) at (36,13) {OH}; \node[atom] (ic2) at (12,40) {O};
 \coordinate (ic3) at (46,44); \node[atom] (ic4) at (64,37) {N}; \coordinate (ic5) at (76,52);
 \node[atom] (ic6) at (64,67) {N}; \node[atom] at (66,78) {H}; \coordinate (ic7) at (46,62); \node[atom] (ic8) at (24,74) {H\textsubscript{2}N};
 \draw[bond] (ic1) -- (ic0) -- (ic3); \draw[dbl] (ic0) -- (ic2);
 \draw[bond] (ic3) -- (ic4) -- (ic5) -- (ic6) -- (ic7) -- (ic3); \draw[bond] (ic7) -- (ic8);
\end{scope}
% C05515
\begin{scope}[shift={(986,2709)}]
 \coordinate (id0) at (46,26); \node[atom] (id1) at (50,11) {OH}; \node[atom] (id2) at (26,38) {O};
 \coordinate (id3) at (60,42); \node[atom] (id4) at (79,35) {N}; \coordinate (id5) at (90,50);
 \node[atom] (id6) at (79,66) {N}; \node[atom] at (80,77) {H}; \coordinate (id7) at (60,60);
 \node[atom] (id8) at (52,74) {N}; \coordinate (id9) at (36,72); \node[atom] (id10) at (16,62) {H\textsubscript{2}N}; \node[atom] (id11) at (26,88) {O};
 \draw[bond] (id1) -- (id0) -- (id3); \draw[dbl] (id0) -- (id2);
 \draw[bond] (id3) -- (id4) -- (id5) -- (id6) -- (id7) -- (id3); \draw[bond] (id7) -- (id8) -- (id9) -- (id10); \draw[dbl] (id9) -- (id11);
\end{scope}
% C00385 xanthine
\begin{scope}[shift={(909,3013)}]
 \mPur{xn}{110,52}{xscale=-1.25,yscale=1.25}{O}{HN}
 \node[atom] (xno) at (26,70) {O}; \draw[dbl] (xnC2) -- (xno);
\end{scope}
% C00262 hypoxanthine
\begin{scope}[shift={(917,3333)}]
 \mPur{hx}{104,52}{xscale=-1.2,yscale=1.2}{O}{HN}
\end{scope}
% C00147 adenine
\begin{scope}[shift={(1192,3617)}]
 \mPur{ade}{8,58}{scale=1.2}{NH\textsubscript{2}}{N}
 \node[atom] at (18,84) {H};
\end{scope}
% C00117 R5P
\begin{scope}[shift={(697,3338)}]
 \mChain{rb}{8,36}{HO,P,O}{O}{dbl}{OH}{bond}
 \mRib{rbr}{110,40}
 \draw[bond] (rb3.east) -- ++(8,5) -- (rbrL);
 \node[atom] (rbo) at (148,24) {OH}; \draw[bond] (rbrR) -- (rbo);
\end{scope}
% C00119 PRPP
\begin{scope}[shift={(820,3619)}]
 \mChain{pr}{8,52}{HO,P,O}{O}{dbl}{HO}{bond}
 \mRib{prr}{112,52}
 \draw[bond] (pr3.east) -- ++(8,5) -- (prrL);
 \node[atom] (pro) at (142,38) {O}; \draw[bond] (prrR) -- (pro);
 \mChain{ps}{[xshift=4.6pt]pro.east}{P,O,P,OH}{HO}{bond}{O}{dbl}
 \draw[bond] (pro) -- (ps1);
\end{scope}
% C00013 PPi
\begin{scope}[shift={(1021,3887)}]
 \mChain{pp}{10,40}{HO,P,O,P,OH}{O}{dbl}{OH}{bond}
\end{scope}
% C02188
\begin{scope}[shift={(991,4135)}]
 \node[atom] (la1) at (49,13) {R}; \coordinate (la2) at (49,28); \node[atom] (la3) at (32,40) {O};
 \node[atom] (la4) at (72,44) {NH}; \coordinate (la5) at (67,66); \coordinate (la6) at (49,78);
 \node[atom] (la7) at (49,94) {O}; \node[atom] (la8) at (30,68) {N}; \node[atom] at (30,78) {H}; \node[atom] (la9) at (13,76) {R};
 \coordinate (la10) at (87,76); \coordinate (la11) at (107,66); \coordinate (la12) at (127,76); \coordinate (la13) at (145,66);
 \node[atom] (la14) at (162,76) {NH\textsubscript{2}};
 \draw[bond] (la1) -- (la2) -- (la4) -- (la5) -- (la6) -- (la8) -- (la9); \draw[dbl] (la2) -- (la3); \draw[dbl] (la6) -- (la7);
 \draw[bond] (la5) -- (la10) -- (la11) -- (la12) -- (la13) -- (la14);
\end{scope}

% ================= edges =================
\draw[e] (C00081) -- (R00725);
\draw[e] (C00031) -- (R00725);
\draw[e] (C00031) -- (R00307);
\draw[e] (C00031) -- (R02738);
\draw[e] (C00031) .. controls (900,175) and (1150,222) .. (R00016);
\draw[e] (C04261) -- (R02738);
\draw[e] (C00660) -- (R00016);
\draw[e] (R00725) -- (C00104);
\draw[e] (R00725) -- (C00092);
\draw[e] (R00307) -- (C00095);
\draw[e] (R02738) -- (C00668);
\draw[e] (R02738) -- (C00615);
\draw[e] (R00016) .. controls (1545,280) and (1600,310) .. (C00103);
\draw[e] (C00092) -- (R00771);
\draw[e] (C00095) -- (R00760);
\draw[e] (C00002a) -- (R00760);
\draw[e] (C00668) -- (R02740);
\draw[e] (C00075) -- (R00289);
\draw[e] (C00103) -- (R00289);
\draw[e] (R00771) -- (C00085);
\draw[e] (R00760) -- (C00085);
\draw[e] (R00760) -- (C00008);
\draw[e] (R02740) -- (C05345);
\draw[e] (R00289) -- (C00029);
\draw[e] (R00289) .. controls (1615,620) and (1586,680) .. (1586,760) .. controls (1586,840) and (1592,860) .. (1592,900)
   -- (1592,3660) .. controls (1592,3790) and (1520,3810) .. (1400,3822) .. controls (1260,3836) and (1170,3850) .. (C00013);
\draw[e] (C00085) -- (R00761);
\draw[e] (C00009a) .. controls (805,800) and (730,840) .. (R00761);
\draw[e] (C00085) .. controls (415,950) and (420,1150) .. (423,1270) .. controls (428,1420) and (460,1510) .. (R01067);
\draw[e] (C00029) -- (R00286);
\draw[e] (C00003a) -- (R00286);
\draw[e] (C00001a) .. controls (2335,790) and (2260,850) .. (R00286);
\draw[e] (R00761) -- (C00001b);
\draw[e] (R00761) -- (C00279);
\draw[e] (R00761) -- (C00227);
\draw[e] (C05345) .. controls (875,1080) and (862,1130) .. (838,1165) .. controls (810,1200) and (765,1212) .. (R01827);
\draw[e] (R00286) -- (C00167);
\draw[e] (R00286) -- (C00004a);
\draw[e] (R00286) .. controls (2260,940) and (2330,985) .. (C00080a);
\draw[e] (C00279) -- (R01827);
\draw[e] (C00227) -- (R07226);
\draw[e] (C00343) -- (R07226);
\draw[e] (C00014a) .. controls (1060,1140) and (1020,1180) .. (R07226);
\draw[e] (C00001c) .. controls (1160,1150) and (1100,1195) .. (R07226);
\draw[e] (C00167) -- (R01384);
\draw[e] (R01827) -- (C05382);
\draw[e] (R01827) -- (C00118);
\draw[e] (R07226) -- (C00009b);
\draw[e] (R07226) -- (C00037);
\draw[e] (R07226) -- (C00342);
\draw[e] (R01384) -- (C00190);
\draw[e] (R01384) .. controls (1920,1280) and (1965,1330) .. (C00011a);
\draw[e] (C00118) .. controls (680,1510) and (610,1550) .. (R01067);
\draw[e] (R01067) .. controls (495,1420) and (515,1250) .. (C00279);
\draw[e] (C00037) .. controls (1010,1510) and (1060,1560) .. (R02729);
\draw[e] (C00664) -- (R02729);
\draw[e] (R01067) -- (C00231);
\draw[e] (R02729) -- (C02718);
\draw[e] (R02729) -- (C00101);
\draw[e] (C02718) -- (R04026);
\draw[e] (R04026) -- (C00001d);
\draw[e] (R04026) -- (C06195);
\draw[e] (C00014b) .. controls (880,2095) and (925,2115) .. (R04731);
\draw[e] (C06195) -- (R04731);
\draw[e] (R04731) -- (C00001e);
\draw[e] (R04731) -- (C05239);
\draw[e] (C00011b) -- (R04732);
\draw[e] (C05239) -- (R04732);
\draw[e] (R04732) -- (C05516);
\draw[e] (C00011c) -- (R04857);
\draw[e] (C05516) -- (R04857);
\draw[e] (C00014c) -- (R04857);
\draw[e] (R04857) -- (C05515);
\draw[e] (R04857) -- (C00001f);
\draw[e] (C05515) -- (R02141);
\draw[e] (C00231) .. controls (690,2020) and (700,2110) .. (700,2250) -- (700,2600) .. controls (700,2760) and (722,2830) .. (R01529);
\draw[e] (R01529) -- (C00199);
\draw[e] (R02141) -- (C00385);
\draw[e] (R02141) .. controls (1300,2925) and (1470,2945) .. (C00001g);
\draw[e] (C00199) -- (R01056);
\draw[e] (C00385) .. controls (1040,3165) and (1110,3195) .. (R01768);
\draw[e] (C00004b) -- (R01768);
\draw[e] (C00080b) .. controls (1395,3140) and (1320,3195) .. (R01768);
\draw[e] (R01056) -- (C00117);
\draw[e] (R01768) .. controls (1090,3255) and (1030,3290) .. (C00262);
\draw[e] (R01768) -- (C00003b);
\draw[e] (R01768) .. controls (1400,3265) and (1485,3300) .. (C00001h);
\draw[e] (C00002b) -- (R01049);
\draw[e] (C00117) -- (R01049);
\draw[e] (C00262) .. controls (1030,3475) and (1085,3505) .. (R01244);
\draw[e] (C00014d) .. controls (1395,3470) and (1300,3515) .. (R01244);
\draw[e] (R01049) -- (C00119);
\draw[e] (R01049) .. controls (790,3680) and (815,3800) .. (C00020);
\draw[e] (R01244) -- (C00001i);
\draw[e] (R01244) -- (C00147);
\draw[e] (C00119) -- (R00190);
\draw[e] (C00147) .. controls (1150,3752) and (1065,3782) .. (R00190);
\draw[e] (R00190) -- (C00020);
\draw[e] (R00190) -- (C00013);
\draw[e] (C00020) -- (R03876);
\draw[e] (C00013) -- (R03876);
\draw[e] (E1) -- (R03876);
\draw[e] (R03876) .. controls (1000,4105) and (965,4145) .. (E2);
\draw[e] (R03876) -- (C02188);
\draw[e] (R03876) -- (C00002c);
\end{tikzpicture}
\end{document}
